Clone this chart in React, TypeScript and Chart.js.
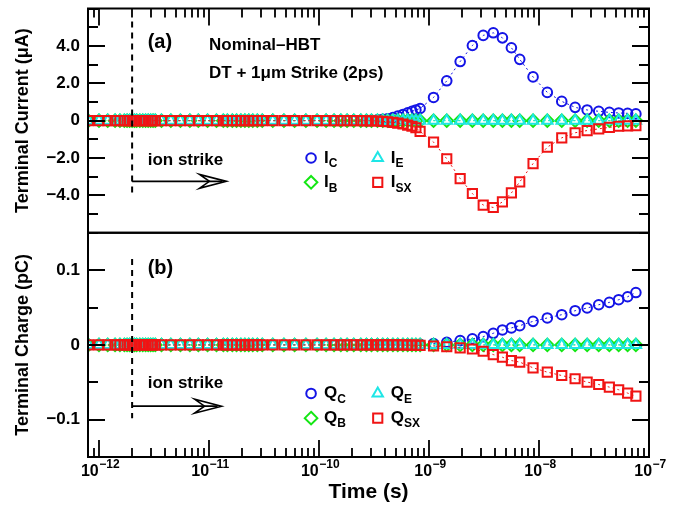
import React, { useEffect, useRef } from 'react';
import { Chart, registerables } from 'chart.js';

Chart.register(...registerables);

// ---------- data ----------
// sample times in picoseconds
const timePs = [
  0.8, 1.0, 1.2, 1.4, 1.55, 1.7, 1.8, 1.9, 2.0, 2.1, 2.2, 2.35, 2.5, 2.65, 2.8, 2.95, 3.1, 3.25,
  3.7, 4.5, 5.5, 6.7, 8.0, 9.7, 11.7, 13.5, 14.7, 16.3, 17.8, 19.5, 21.2, 23, 25, 27.5,
  30.5, 38, 48, 60, 76, 96, 116, 137, 158, 180, 207, 240, 270,
  300, 340, 380, 420, 470, 520, 580, 640, 700, 760,
  830, 1100, 1450, 1920, 2480, 3110, 3840, 4650, 5610, 6680, 8830, 11900, 16100, 21300, 27400,
  34900, 43600, 53000, 63900, 76000,
];

// terminal currents (uA)
const currentC = [
  0, 0, 0, 0, 0, 0, 0, 0, 0, 0, 0, 0, 0, 0, 0, 0, 0, 0,
  0, 0, 0, 0, 0, 0, 0, 0, 0, 0, 0, 0, 0, 0, 0, 0,
  0, 0, 0, 0, 0, 0, 0, 0, 0, 0, 0, 0, 0.01,
  0.02, 0.04, 0.07, 0.1, 0.16, 0.24, 0.33, 0.42, 0.5, 0.57,
  0.65, 1.24, 2.13, 3.16, 4.02, 4.56, 4.7, 4.43, 3.9, 3.28, 2.34, 1.51, 1.03, 0.71, 0.57,
  0.5, 0.44, 0.41, 0.39, 0.36,
];
const currentB = [
  0, 0, 0, 0, 0, 0, 0, 0, 0, 0, 0, 0, 0, 0, 0, 0, 0, 0,
  0, 0, 0, 0, 0, 0, 0, 0, 0, 0, 0, 0, 0, 0, 0, 0,
  0, 0, 0, 0, 0, 0, 0, 0, 0, 0, 0, 0, 0,
  0, 0, 0, 0, 0, 0, 0, 0, 0, 0,
  0, 0, 0, 0, 0, 0, 0, 0, 0, 0, 0, 0, 0, 0, 0,
  0, 0, 0, 0, 0,
];
const currentE = [
  0, 0, 0, 0, 0, 0, 0, 0, 0, 0, 0, 0, 0, 0, 0, 0, 0, 0,
  0, 0, 0, 0, 0, 0, 0, 0, 0, 0, 0, 0, 0, 0, 0, 0,
  0, 0, 0, 0, 0, 0, 0, 0, 0, 0, 0, 0, 0,
  0, 0, 0, 0, 0, 0, 0, 0, 0, 0,
  0, 0, 0, 0, 0, 0, 0, 0, 0, 0, 0, 0, 0, 0, 0,
  0, 0, 0, 0, 0,
];
const currentSX = [
  0, 0, 0, 0, 0, 0, 0, 0, 0, 0, 0, 0, 0, 0, 0, 0, 0, 0,
  0, 0, 0, 0, 0, 0, 0, 0, 0, 0, 0, 0, 0, 0, 0, 0,
  0, 0, 0, 0, 0, 0, 0, 0, 0, 0, 0, 0, -0.01,
  -0.01, -0.02, -0.04, -0.06, -0.09, -0.13, -0.18, -0.24, -0.3, -0.38,
  -0.58, -1.15, -2.04, -3.1, -3.9, -4.52, -4.65, -4.35, -3.87, -3.28, -2.3, -1.42, -0.92, -0.65, -0.53,
  -0.44, -0.36, -0.3, -0.28, -0.27,
];

// terminal charges (pC)
const chargeC = [
  0, 0, 0, 0, 0, 0, 0, 0, 0, 0, 0, 0, 0, 0, 0, 0, 0, 0,
  0, 0, 0, 0, 0, 0, 0, 0, 0, 0, 0, 0, 0, 0, 0, 0,
  0, 0, 0, 0, 0, 0, 0, 0, 0, 0, 0, 0, 0,
  0, 0, 0, 0, 0, 0.0001, 0.0001, 0.0002, 0.0003, 0.0005,
  0.0008, 0.0018, 0.0035, 0.0057, 0.008, 0.011, 0.0155, 0.02, 0.0227, 0.0257, 0.0315, 0.036, 0.0404, 0.0457, 0.0493,
  0.0537, 0.0568, 0.0604, 0.0644, 0.07,
];
const chargeB = [
  0, 0, 0, 0, 0, 0, 0, 0, 0, 0, 0, 0, 0, 0, 0, 0, 0, 0,
  0, 0, 0, 0, 0, 0, 0, 0, 0, 0, 0, 0, 0, 0, 0, 0,
  0, 0, 0, 0, 0, 0, 0, 0, 0, 0, 0, 0, 0,
  0, 0, 0, 0, 0, 0, 0, 0, 0, 0,
  0, 0, 0, 0, 0, 0, 0, 0, 0, 0, 0, 0, 0, 0, 0,
  0, 0, 0, 0, 0,
];
const chargeE = [
  0, 0, 0, 0, 0, 0, 0, 0, 0, 0, 0, 0, 0, 0, 0, 0, 0, 0,
  0, 0, 0, 0, 0, 0, 0, 0, 0, 0, 0, 0, 0, 0, 0, 0,
  0, 0, 0, 0, 0, 0, 0, 0, 0, 0, 0, 0, 0,
  0, 0, 0, 0, 0, 0, 0, 0, 0, 0,
  0, 0, 0, 0, 0, 0, 0, 0, 0, 0, 0, 0, 0, 0, 0,
  0, 0, 0, 0, 0,
];
const chargeSX = [
  0, 0, 0, 0, 0, 0, 0, 0, 0, 0, 0, 0, 0, 0, 0, 0, 0, 0,
  0, 0, 0, 0, 0, 0, 0, 0, 0, 0, 0, 0, 0, 0, 0, 0,
  0, 0, 0, 0, 0, 0, 0, 0, 0, 0, 0, 0, 0,
  0, 0, 0, 0, 0, -0.0001, -0.0001, -0.0002, -0.0003, -0.0004,
  -0.0006, -0.0015, -0.0025, -0.004, -0.0055, -0.0085, -0.013, -0.0165, -0.021, -0.023, -0.0307, -0.0365, -0.041, -0.0453, -0.0498,
  -0.053, -0.0565, -0.06, -0.0645, -0.0685,
];

const xTickValues = [1e-12, 1e-11, 1e-10, 1e-9, 1e-8, 1e-7];
const xTickExponents = ['−12', '−11', '−10', '−9', '−8', '−7'];
const currentTickLabels: Record<string, string> = { '4': '4.0', '2': '2.0', '0': '0', '-2': '−2.0', '-4': '−4.0' };
const chargeTickLabels: Record<string, string> = { '10': '0.1', '0': '0', '-10': '−0.1' };
const seriesSubs = ['C', 'B', 'E', 'SX'];
const strikeTimePs = 2;

// ---------- styles ----------
const FONT = '"Liberation Sans", Arial, Helvetica, sans-serif';
const BLUE = '#1414e6';
const GREEN = '#14e614';
const CYAN = '#1ee6e6';
const RED = '#f01414';
const seriesColors = [BLUE, GREEN, CYAN, RED];
const seriesStyles = ['circle', 'rectRot', 'triangle', 'rect'];
const seriesRadius = [4.8, 6.3, 6, 6.5];
const seriesOrder = [3, 2, 1, 0];

function drawMarker(ctx: CanvasRenderingContext2D, style: string, x: number, y: number, r: number, color: string) {
  ctx.save();
  ctx.strokeStyle = color;
  ctx.lineWidth = 2;
  ctx.beginPath();
  if (style === 'circle') {
    ctx.arc(x, y, r, 0, Math.PI * 2);
  } else if (style === 'rect') {
    const s = r * Math.SQRT1_2;
    ctx.rect(x - s, y - s, 2 * s, 2 * s);
  } else if (style === 'triangle') {
    ctx.moveTo(x, y - r);
    ctx.lineTo(x + r * Math.sin((2 * Math.PI) / 3), y + r * 0.5);
    ctx.lineTo(x - r * Math.sin((2 * Math.PI) / 3), y + r * 0.5);
    ctx.closePath();
  } else {
    ctx.moveTo(x, y - r);
    ctx.lineTo(x + r, y);
    ctx.lineTo(x, y + r);
    ctx.lineTo(x - r, y);
    ctx.closePath();
  }
  ctx.stroke();
  ctx.restore();
}

function drawArrow(ctx: CanvasRenderingContext2D, x0: number, x1: number, y: number) {
  ctx.save();
  ctx.strokeStyle = '#000';
  ctx.lineWidth = 1.6;
  ctx.beginPath();
  ctx.moveTo(x0, y);
  ctx.lineTo(x1 - 4, y);
  ctx.stroke();
  ctx.beginPath();
  ctx.moveTo(x1, y);
  ctx.lineTo(x1 - 27, y - 7);
  ctx.lineTo(x1 - 17, y);
  ctx.lineTo(x1 - 27, y + 7);
  ctx.closePath();
  ctx.stroke();
  ctx.restore();
}

const overlayPlugin = {
  id: 'overlay',
  afterDraw(chart: any) {
    const { ctx, chartArea } = chart;
    const xs = chart.scales.x;
    const yI = chart.scales.yI;
    const yQ = chart.scales.yQ;
    const L = chartArea.left;
    const R = chartArea.right;
    ctx.save();

    // ticks (inward)
    ctx.strokeStyle = '#000';
    ctx.lineWidth = 1.8;
    const yTicks = (scale: any, labels: Record<string, string>, factor: number) => {
      for (const t of scale.ticks) {
        const key = String(Math.round(t.value * factor));
        const major = labels[key] !== undefined;
        const len = major ? 17 : 10;
        const py = Math.round(scale.getPixelForValue(t.value));
        ctx.beginPath();
        ctx.moveTo(L, py);
        ctx.lineTo(L + len, py);
        ctx.moveTo(R, py);
        ctx.lineTo(R - len, py);
        ctx.stroke();
      }
    };
    yTicks(yI, currentTickLabels, 1);
    yTicks(yQ, chargeTickLabels, 100);

    const xmin = xs.min;
    const xmax = xs.max;
    for (let e = -13; e <= -8; e++) {
      for (let m = 1; m <= 9; m++) {
        const v = m * Math.pow(10, e);
        if (v <= xmin * 1.0001 || v >= xmax * 0.9999) continue;
        const px = Math.round(xs.getPixelForValue(v));
        const len = m === 1 ? 17 : 9;
        ctx.beginPath();
        ctx.moveTo(px, yQ.bottom);
        ctx.lineTo(px, yQ.bottom - len);
        ctx.moveTo(px, yI.top);
        ctx.lineTo(px, yI.top + len);
        ctx.stroke();
      }
    }

    // frames
    ctx.lineWidth = 2;
    ctx.strokeRect(L, yI.top, R - L, yI.bottom - yI.top);
    ctx.strokeRect(L, yQ.top, R - L, yQ.bottom - yQ.top);

    // x tick labels: 10 with superscript exponent
    ctx.fillStyle = '#000';
    ctx.textBaseline = 'alphabetic';
    ctx.textAlign = 'left';
    xTickValues.forEach((v, i) => {
      const px = xs.getPixelForValue(v);
      ctx.font = `bold 16px ${FONT}`;
      const wBase = ctx.measureText('10').width;
      ctx.font = `bold 12px ${FONT}`;
      const wExp = ctx.measureText(xTickExponents[i]).width;
      const x0 = px - (wBase + wExp) / 2 + 1;
      ctx.font = `bold 16px ${FONT}`;
      ctx.fillText('10', x0, yQ.bottom + 19);
      ctx.font = `bold 12px ${FONT}`;
      ctx.fillText(xTickExponents[i], x0 + wBase + 0.5, yQ.bottom + 11);
    });

    // ion strike dashed lines
    const sx = xs.getPixelForValue(strikeTimePs * 1e-12);
    ctx.setLineDash([6, 5]);
    ctx.lineWidth = 2;
    ctx.beginPath();
    ctx.moveTo(sx, yI.getPixelForValue(5.3));
    ctx.lineTo(sx, yI.getPixelForValue(-3.95));
    ctx.moveTo(sx, yQ.getPixelForValue(0.115));
    ctx.lineTo(sx, yQ.getPixelForValue(-0.098));
    ctx.stroke();
    ctx.setLineDash([]);

    // arrows
    drawArrow(ctx, sx, xs.getPixelForValue(1.44e-11), yI.getPixelForValue(-3.25));
    drawArrow(ctx, sx, xs.getPixelForValue(1.3e-11), yQ.getPixelForValue(-0.082));

    // texts
    ctx.fillStyle = '#000';
    ctx.textBaseline = 'middle';
    ctx.textAlign = 'left';
    const textX = xs.getPixelForValue(2.77e-12);
    const infoX = xs.getPixelForValue(1.0e-11);
    ctx.font = `bold 20px ${FONT}`;
    ctx.fillText('(a)', textX, yI.getPixelForValue(4.2));
    ctx.fillText('(b)', textX, yQ.getPixelForValue(0.102));
    ctx.font = `bold 17px ${FONT}`;
    ctx.fillText('Nominal–HBT', infoX, yI.getPixelForValue(4.02));
    ctx.fillText('DT + 1μm Strike (2ps)', infoX, yI.getPixelForValue(2.55));
    ctx.fillText('ion strike', textX, yI.getPixelForValue(-2.15));
    ctx.fillText('ion strike', textX, yQ.getPixelForValue(-0.052));

    // legends
    const colX = [xs.getPixelForValue(8.47e-11), xs.getPixelForValue(3.42e-10)];
    const legend = (scale: any, letter: string, rows: number[]) => {
      const pos = [
        [colX[0], scale.getPixelForValue(rows[0])],
        [colX[0], scale.getPixelForValue(rows[1])],
        [colX[1], scale.getPixelForValue(rows[0])],
        [colX[1], scale.getPixelForValue(rows[1])],
      ];
      for (let i = 0; i < 4; i++) {
        const [mx, my] = pos[i];
        drawMarker(ctx, seriesStyles[i], mx, my, seriesRadius[i], seriesColors[i]);
        ctx.fillStyle = '#000';
        ctx.font = `bold 17px ${FONT}`;
        ctx.fillText(letter, mx + 13, my);
        const w = ctx.measureText(letter).width;
        ctx.font = `bold 12px ${FONT}`;
        ctx.fillText(seriesSubs[i], mx + 13 + w, my + 6);
      }
    };
    legend(yI, 'I', [-2.0, -3.3]);
    legend(yQ, 'Q', [-0.065, -0.098]);

    ctx.restore();
  },
};

const zeroPad = (s: any) => {
  s.paddingTop = 0;
  s.paddingBottom = 0;
  s.paddingLeft = 0;
  s.paddingRight = 0;
};

export default function App() {
  const ref = useRef<HTMLCanvasElement>(null);

  useEffect(() => {
    if (!ref.current) return;
    const make = (values: number[], axis: string, i: number) => ({
      label: (axis === 'yI' ? 'I' : 'Q') + seriesSubs[i],
      data: timePs.map((t, k) => ({ x: t * 1e-12, y: values[k] })),
      yAxisID: axis,
      showLine: true,
      borderColor: seriesColors[i],
      borderWidth: 1,
      borderDash: [2, 3],
      pointStyle: seriesStyles[i],
      pointRadius: seriesRadius[i],
      pointBorderColor: seriesColors[i],
      pointBackgroundColor: 'rgba(0,0,0,0)',
      pointBorderWidth: 2,
      order: seriesOrder[i],
      fill: false,
    });
    const datasets = [
      make(currentC, 'yI', 0),
      make(currentB, 'yI', 1),
      make(currentE, 'yI', 2),
      make(currentSX, 'yI', 3),
      make(chargeC, 'yQ', 0),
      make(chargeB, 'yQ', 1),
      make(chargeE, 'yQ', 2),
      make(chargeSX, 'yQ', 3),
    ];
    const tickFont = { family: FONT, size: 17, weight: 'bold' as const };
    const chart = new Chart(ref.current, {
      type: 'scatter',
      data: { datasets },
      options: {
        animation: false,
        responsive: false,
        color: '#000',
        layout: { padding: { left: 0, right: 33, top: 7, bottom: 0 } },
        plugins: { legend: { display: false }, tooltip: { enabled: false } },
        scales: {
          x: {
            type: 'logarithmic',
            position: 'bottom',
            min: Math.pow(10, -12.1),
            max: 1e-7,
            afterBuildTicks: (s: any) => {
              s.ticks = xTickValues.map((v) => ({ value: v }));
            },
            afterFit: (s: any) => {
              s.height = 49;
              zeroPad(s);
            },
            grid: { display: false, drawTicks: false },
            border: { display: false },
            ticks: {
              autoSkip: false,
              maxRotation: 0,
              minRotation: 0,
              padding: 3,
              color: '#000',
              font: { family: FONT, size: 16, weight: 'bold' },
              callback: () => '',
            },
            title: {
              display: true,
              text: 'Time (s)',
              color: '#000',
              font: { family: FONT, size: 21, weight: 'bold' },
              padding: { top: 0, bottom: 1 },
            },
          },
          yI: {
            type: 'linear',
            position: 'left',
            stack: 'panels',
            stackWeight: 1,
            weight: 2,
            min: -6,
            max: 6,
            afterFit: (s: any) => {
              s.width = 88;
              zeroPad(s);
            },
            grid: { display: false, drawTicks: false },
            border: { display: false },
            ticks: {
              stepSize: 1,
              autoSkip: false,
              padding: 8,
              color: '#000',
              font: tickFont,
              callback: (v: any) => currentTickLabels[String(Math.round(Number(v)))] ?? '',
            },
            title: {
              display: true,
              text: 'Terminal Current (μA)',
              color: '#000',
              font: { family: FONT, size: 18, weight: 'bold' },
              padding: { top: 12, bottom: 0 },
            },
          },
          yQ: {
            type: 'linear',
            position: 'left',
            stack: 'panels',
            stackWeight: 1,
            weight: 1,
            min: -0.15,
            max: 0.15,
            afterFit: (s: any) => {
              s.width = 88;
              zeroPad(s);
            },
            grid: { display: false, drawTicks: false },
            border: { display: false },
            ticks: {
              stepSize: 0.05,
              autoSkip: false,
              padding: 8,
              color: '#000',
              font: tickFont,
              callback: (v: any) => chargeTickLabels[String(Math.round(Number(v) * 100))] ?? '',
            },
            title: {
              display: true,
              text: 'Terminal Charge (pC)',
              color: '#000',
              font: { family: FONT, size: 18, weight: 'bold' },
              padding: { top: 12, bottom: 0 },
            },
          },
        },
      } as any,
      plugins: [overlayPlugin],
    });
    return () => chart.destroy();
  }, []);

  return (
    <div style={{ position: 'fixed', left: 0, top: 0, width: 682, height: 506, background: '#fff' }}>
      <canvas ref={ref} width={682} height={506} style={{ display: 'block', width: 682, height: 506 }} />
    </div>
  );
}
